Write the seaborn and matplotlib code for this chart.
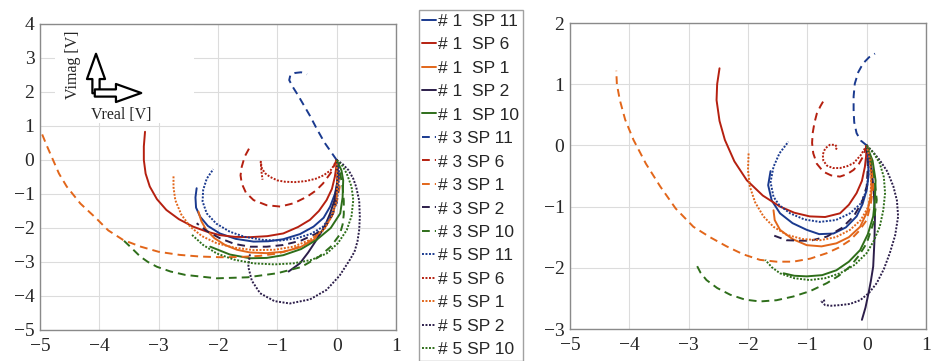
import matplotlib
matplotlib.use("Agg")
import matplotlib.pyplot as plt
from matplotlib.patches import Rectangle, FancyArrowPatch
import seaborn as sns

# legend categories
shots = ["# 1", "# 3", "# 5"]
points = ["SP 11", "SP 6", "SP 1", "SP 2", "SP 10"]

# left panel trajectories (Vreal, Vimag)
l1_sp11 = [(0, 0), (0.02, -0.3), (0.02, -0.6), (-0.03, -1.0), (-0.11, -1.37), (-0.22, -1.7),
           (-0.39, -1.96), (-0.62, -2.18), (-0.9, -2.33), (-1.15, -2.39), (-1.4, -2.4),
           (-1.7, -2.32), (-1.97, -2.16), (-2.17, -1.94), (-2.3, -1.67), (-2.37, -1.4),
           (-2.38, -1.1), (-2.36, -0.83)]
l1_sp6 = [(0, 0), (-0.01, -0.25), (-0.03, -0.49), (-0.08, -0.85), (-0.17, -1.18), (-0.3, -1.5),
          (-0.45, -1.76), (-0.65, -1.97), (-0.9, -2.16), (-1.17, -2.24), (-1.46, -2.27),
          (-1.72, -2.26), (-1.97, -2.21), (-2.2, -2.1), (-2.42, -1.96), (-2.66, -1.74),
          (-2.87, -1.47), (-3.03, -1.15), (-3.15, -0.78), (-3.22, -0.4), (-3.25, 0.0),
          (-3.25, 0.4), (-3.23, 0.83)]
l1_sp1 = [(0, 0), (0.02, -0.3), (0.03, -0.6), (0.0, -1.1), (-0.06, -1.57), (-0.2, -2.0),
          (-0.39, -2.35), (-0.62, -2.57), (-0.9, -2.7), (-1.18, -2.74), (-1.46, -2.72),
          (-1.68, -2.64), (-1.88, -2.5), (-2.06, -2.3), (-2.2, -2.05), (-2.28, -1.8), (-2.33, -1.52)]
l1_sp2 = [(0, 0), (0.02, -0.4), (0.0, -0.78), (-0.04, -1.2), (-0.11, -1.57), (-0.2, -1.95),
          (-0.34, -2.35), (-0.48, -2.72), (-0.62, -3.04), (-0.81, -3.28)]
l1_sp10 = [(0, 0), (0.08, -0.3), (0.11, -0.6), (0.1, -1.1), (0.06, -1.57), (-0.1, -2.0),
           (-0.34, -2.35), (-0.6, -2.62), (-0.9, -2.8), (-1.18, -2.88), (-1.46, -2.89),
           (-1.8, -2.78), (-2.13, -2.55)]
l3_sp11 = [(0, 0), (-0.1, 0.25), (-0.2, 0.5), (-0.33, 0.9), (-0.45, 1.3), (-0.55, 1.6),
           (-0.65, 1.9), (-0.74, 2.15), (-0.8, 2.35), (-0.78, 2.5), (-0.7, 2.56), (-0.6, 2.58),
           (-0.5, 2.52)]
l3_sp6 = [(0, 0), (-0.1, -0.38), (-0.23, -0.69), (-0.35, -0.9), (-0.5, -1.08), (-0.72, -1.27),
          (-0.95, -1.37), (-1.18, -1.33), (-1.4, -1.18), (-1.53, -0.96), (-1.6, -0.69),
          (-1.62, -0.45), (-1.6, -0.2), (-1.55, 0.1), (-1.46, 0.39)]
l3_sp1 = [(0, 0), (0.04, -0.4), (0.05, -0.8), (0.0, -1.25), (-0.1, -1.7), (-0.27, -2.1),
          (-0.5, -2.45), (-0.75, -2.63), (-1.0, -2.75), (-1.3, -2.82), (-1.6, -2.85),
          (-1.95, -2.86), (-2.3, -2.84), (-2.65, -2.79), (-3.0, -2.7), (-3.3, -2.55),
          (-3.6, -2.35), (-3.85, -2.07), (-4.05, -1.72), (-4.32, -1.28), (-4.55, -0.78),
          (-4.68, -0.4), (-4.78, 0.0), (-4.88, 0.4), (-4.97, 0.78)]
l3_sp2 = [(0, 0), (0.02, -0.35), (0.01, -0.7), (-0.01, -1.15), (-0.06, -1.57), (-0.17, -1.9),
          (-0.34, -2.16), (-0.6, -2.37), (-0.9, -2.5), (-1.18, -2.55), (-1.46, -2.55),
          (-1.72, -2.47), (-1.97, -2.3), (-2.18, -2.1), (-2.36, -1.86)]
l3_sp10 = [(0, 0), (0.06, -0.4), (0.1, -0.8), (0.12, -1.2), (0.12, -1.6), (0.1, -1.9),
           (0.05, -2.2), (-0.1, -2.55), (-0.3, -2.85), (-0.6, -3.15), (-1.0, -3.33),
           (-1.5, -3.45), (-2.02, -3.48), (-2.55, -3.38), (-2.8, -3.28), (-3.03, -3.14),
           (-3.18, -3.0), (-3.31, -2.84), (-3.45, -2.6), (-3.6, -2.35)]
l5_sp11 = [(0, 0), (0.04, -0.29), (0.03, -0.8), (0.0, -1.27), (-0.1, -1.65), (-0.23, -1.96),
           (-0.43, -2.17), (-0.67, -2.3), (-0.95, -2.37), (-1.24, -2.35), (-1.55, -2.26),
           (-1.8, -2.11), (-2.03, -1.87), (-2.19, -1.57), (-2.26, -1.22), (-2.25, -0.88),
           (-2.19, -0.55), (-2.08, -0.27)]
l5_sp6 = [(0, 0), (-0.05, -0.17), (-0.1, -0.3), (-0.22, -0.45), (-0.35, -0.55), (-0.52, -0.62),
          (-0.7, -0.65), (-0.87, -0.64), (-1.0, -0.6), (-1.12, -0.5), (-1.2, -0.4),
          (-1.26, -0.25), (-1.28, -0.05), (-1.27, -0.3), (-1.25, -0.58)]
l5_sp1 = [(0, 0), (0.0, -0.2), (0.01, -0.7), (0.0, -1.18), (-0.08, -1.65), (-0.22, -2.06),
          (-0.45, -2.35), (-0.73, -2.55), (-1.05, -2.64), (-1.4, -2.65), (-1.72, -2.58),
          (-2.02, -2.45), (-2.27, -2.24), (-2.47, -1.96), (-2.62, -1.6), (-2.72, -1.18),
          (-2.75, -0.8), (-2.75, -0.44)]
l5_sp2 = [(0, 0), (0.1, -0.12), (0.2, -0.3), (0.28, -0.55), (0.33, -0.8), (0.38, -1.2),
          (0.39, -1.67), (0.38, -2.05), (0.35, -2.4), (0.3, -2.7), (0.22, -2.94), (0.05, -3.4),
          (-0.17, -3.82), (-0.45, -4.1), (-0.79, -4.22), (-1.05, -4.15), (-1.29, -3.92),
          (-1.43, -3.55), (-1.49, -3.14), (-1.46, -2.75)]
l5_sp10 = [(0, 0), (0.1, -0.18), (0.17, -0.4), (0.25, -0.78), (0.28, -1.18), (0.25, -1.65),
           (0.17, -2.06), (0.02, -2.45), (-0.17, -2.75), (-0.43, -2.94), (-0.73, -3.04),
           (-1.05, -3.07), (-1.4, -3.04), (-1.73, -2.93), (-2.02, -2.75), (-2.25, -2.5),
           (-2.44, -2.2)]

# right panel trajectories
r1_sp11 = [(0, 0), (0.03, -0.24), (0.03, -0.5), (0, -0.73), (-0.07, -0.96), (-0.17, -1.16),
           (-0.35, -1.34), (-0.56, -1.44), (-0.8, -1.45), (-1.01, -1.38), (-1.25, -1.27),
           (-1.46, -1.11), (-1.6, -0.9), (-1.66, -0.65), (-1.62, -0.42)]
r1_sp6 = [(0, 0), (-0.01, -0.18), (-0.03, -0.35), (-0.08, -0.58), (-0.17, -0.78), (-0.3, -0.97),
          (-0.45, -1.11), (-0.7, -1.17), (-0.96, -1.16), (-1.22, -1.1), (-1.46, -1.0),
          (-1.75, -0.82), (-2.02, -0.57), (-2.23, -0.26), (-2.39, 0.09), (-2.48, 0.4),
          (-2.53, 0.74), (-2.52, 1.0), (-2.48, 1.26)]
r1_sp1 = [(0, 0), (0.06, -0.24), (0.08, -0.5), (0.08, -0.78), (0.01, -1.08), (-0.11, -1.33),
          (-0.3, -1.5), (-0.51, -1.6), (-0.76, -1.65), (-1.01, -1.63), (-1.25, -1.53),
          (-1.46, -1.38), (-1.55, -1.22), (-1.57, -1.06)]
r1_sp2 = [(0, 0), (0.05, -0.18), (0.08, -0.35), (0.12, -0.75), (0.14, -1.16), (0.13, -1.58),
          (0.11, -1.98), (0.07, -2.22), (0.03, -2.42), (-0.02, -2.65), (-0.08, -2.85)]
r1_sp10 = [(0, 0), (0.1, -0.25), (0.15, -0.57), (0.14, -0.88), (0.11, -1.16), (0.02, -1.45),
           (-0.11, -1.71), (-0.3, -1.9), (-0.51, -2.04), (-0.75, -2.12), (-1.01, -2.14),
           (-1.22, -2.13), (-1.4, -2.09)]
r3_sp11 = [(0, 0), (-0.1, 0.08), (-0.17, 0.2), (-0.21, 0.38), (-0.22, 0.58), (-0.22, 0.8),
           (-0.2, 1.01), (-0.14, 1.2), (-0.06, 1.34), (0.04, 1.44), (0.14, 1.5)]
r3_sp6 = [(0, 0), (-0.06, -0.18), (-0.13, -0.3), (-0.22, -0.4), (-0.33, -0.47), (-0.45, -0.51),
          (-0.6, -0.49), (-0.73, -0.43), (-0.84, -0.3), (-0.9, -0.13), (-0.92, 0.04),
          (-0.91, 0.2), (-0.88, 0.37), (-0.84, 0.52), (-0.78, 0.64), (-0.72, 0.74)]
r3_sp1 = [(0, 0), (0.06, -0.18), (0.1, -0.42), (0.11, -0.67), (0.07, -0.95), (0, -1.22),
          (-0.13, -1.4), (-0.28, -1.55), (-0.47, -1.67), (-0.67, -1.76), (-0.95, -1.85),
          (-1.24, -1.9), (-1.52, -1.9), (-1.8, -1.87), (-2.08, -1.78), (-2.36, -1.65),
          (-2.64, -1.5), (-2.92, -1.33), (-3.22, -1.03), (-3.48, -0.67), (-3.72, -0.3),
          (-3.93, 0.09), (-4.07, 0.42), (-4.16, 0.74), (-4.21, 1.0), (-4.22, 1.22)]
r3_sp2 = [(0, 0), (0.02, -0.35), (0, -0.67), (-0.08, -0.93), (-0.22, -1.16), (-0.42, -1.35),
          (-0.67, -1.49), (-0.96, -1.56), (-1.35, -1.55), (-1.6, -1.46)]
r3_sp10 = [(0, 0), (0.12, -0.45), (0.17, -0.89), (0.12, -1.25), (0, -1.6), (-0.13, -1.8),
           (-0.28, -1.98), (-0.47, -2.13), (-0.67, -2.25), (-0.95, -2.38), (-1.24, -2.47),
           (-1.52, -2.53), (-1.8, -2.55), (-2.05, -2.52), (-2.3, -2.44), (-2.52, -2.33),
           (-2.7, -2.2), (-2.8, -2.08), (-2.88, -1.93)]
r5_sp11 = [(0, 0), (0.03, -0.2), (0.03, -0.48), (0, -0.73), (-0.1, -0.95), (-0.28, -1.11),
           (-0.52, -1.22), (-0.79, -1.25), (-1.05, -1.21), (-1.29, -1.11), (-1.47, -0.98),
           (-1.57, -0.84), (-1.62, -0.6), (-1.57, -0.35), (-1.47, -0.13), (-1.32, 0.06)]
r5_sp6 = [(0, 0), (-0.1, -0.16), (-0.22, -0.29), (-0.33, -0.34), (-0.45, -0.37), (-0.57, -0.37),
          (-0.67, -0.33), (-0.73, -0.25), (-0.74, -0.15), (-0.7, -0.05), (-0.62, 0.01),
          (-0.53, 0.01), (-0.5, -0.03), (-0.52, -0.07)]
r5_sp1 = [(0, 0), (0.05, -0.22), (0.08, -0.46), (0.07, -0.73), (0.03, -1.0), (-0.1, -1.22),
          (-0.28, -1.38), (-0.52, -1.5), (-0.79, -1.55), (-1.08, -1.53), (-1.35, -1.46),
          (-1.57, -1.33), (-1.74, -1.16), (-1.88, -0.93), (-1.97, -0.67), (-2.0, -0.4),
          (-1.99, -0.13)]
r5_sp2 = [(0, 0), (0.1, -0.1), (0.22, -0.24), (0.35, -0.43), (0.45, -0.67), (0.51, -0.9),
          (0.53, -1.16), (0.48, -1.47), (0.39, -1.76), (0.29, -2.02), (0.17, -2.25),
          (0.04, -2.41), (-0.11, -2.53), (-0.28, -2.59), (-0.45, -2.61), (-0.6, -2.62),
          (-0.7, -2.61), (-0.76, -2.55), (-0.7, -2.53)]
r5_sp10 = [(0, 0), (0.12, -0.13), (0.22, -0.29), (0.29, -0.52), (0.31, -0.78), (0.28, -1.06),
           (0.22, -1.33), (0.12, -1.56), (0, -1.76), (-0.2, -1.95), (-0.45, -2.09), (-0.7, -2.17),
           (-0.96, -2.2), (-1.22, -2.17), (-1.46, -2.09), (-1.6, -1.99), (-1.71, -1.87)]

left_curves = [l1_sp11, l1_sp6, l1_sp1, l1_sp2, l1_sp10,
               l3_sp11, l3_sp6, l3_sp1, l3_sp2, l3_sp10,
               l5_sp11, l5_sp6, l5_sp1, l5_sp2, l5_sp10]
right_curves = [r1_sp11, r1_sp6, r1_sp1, r1_sp2, r1_sp10,
                r3_sp11, r3_sp6, r3_sp1, r3_sp2, r3_sp10,
                r5_sp11, r5_sp6, r5_sp1, r5_sp2, r5_sp10]

colors = ["#1a3a8f", "#b52010", "#e2661a", "#2c1e4a", "#2e6e1a"]
styles = ["-", (0, (4, 2.6)), (0, (1, 0.8))]

sns.set_style("whitegrid")
plt.rcParams["font.family"] = ["Liberation Serif", "DejaVu Serif"]

fig = plt.figure(figsize=(9.39, 3.61), dpi=100)
ax1 = fig.add_axes([40 / 939, 31 / 361, 356 / 939, 306 / 361])
ax2 = fig.add_axes([570 / 939, 32 / 361, 356 / 939, 306 / 361])

for ax, curves in [(ax1, left_curves), (ax2, right_curves)]:
    for i, pts in enumerate(curves):
        xs = [p[0] for p in pts]
        ys = [p[1] for p in pts]
        sns.lineplot(x=xs, y=ys, ax=ax, sort=False, estimator=None,
                     color=colors[i % 5], linestyle=styles[i // 5], linewidth=1.4)
    ax.set_xlim(-5, 1)
    ax.set_xticks(range(-5, 2))
    ax.grid(True, color="#dcdcdc", linewidth=0.8)
    for s in ax.spines.values():
        s.set_color("#8a8a8a")
        s.set_linewidth(1.0)
    ax.tick_params(direction="in", length=4, color="#8a8a8a", labelsize=14)
    ax.tick_params(axis="x", pad=6)
    ax.tick_params(axis="y", pad=4)

ax1.set_ylim(-5, 4)
ax1.set_yticks(range(-5, 5))
ax2.set_ylim(-3, 2)
ax2.set_yticks(range(-3, 3))

# axis hint box in the left panel
ax1.add_patch(Rectangle((-4.75, 1.1), 2.35, 2.88, facecolor="white", edgecolor="none", zorder=1.5))
fig.text(73, 296, "Vimag [V]", transform=None, rotation=90, ha="center", va="center", fontsize=11.5)
fig.text(121, 246, "Vreal [V]", transform=None, ha="center", va="center", fontsize=11.5)
arrow = dict(arrowstyle="simple,head_width=1.0,head_length=1.4,tail_width=0.4",
             fc="white", ec="black", lw=1.6, mutation_scale=13, transform=None)
fig.add_artist(FancyArrowPatch((96, 265), (96, 310), **arrow))
fig.add_artist(FancyArrowPatch((92, 268), (144, 268), **arrow))

labels = [(f"{s}  {p}" if s == "# 1" else f"{s} {p}") for s in shots for p in points]
handles = ax1.get_lines()[:15]
leg = fig.legend(handles, labels, loc="upper left", bbox_to_anchor=(419 / 939, 1 - 10 / 361),
                 borderaxespad=0, frameon=True, fancybox=False, handlelength=0.8,
                 handletextpad=0.12, labelspacing=0.48, borderpad=0.2,
                 prop={"family": ["Liberation Sans"], "size": 12.5})
leg.get_frame().set_edgecolor("#8a8a8a")
leg.get_frame().set_linewidth(1.0)

fig.savefig("out.png", dpi=100)
